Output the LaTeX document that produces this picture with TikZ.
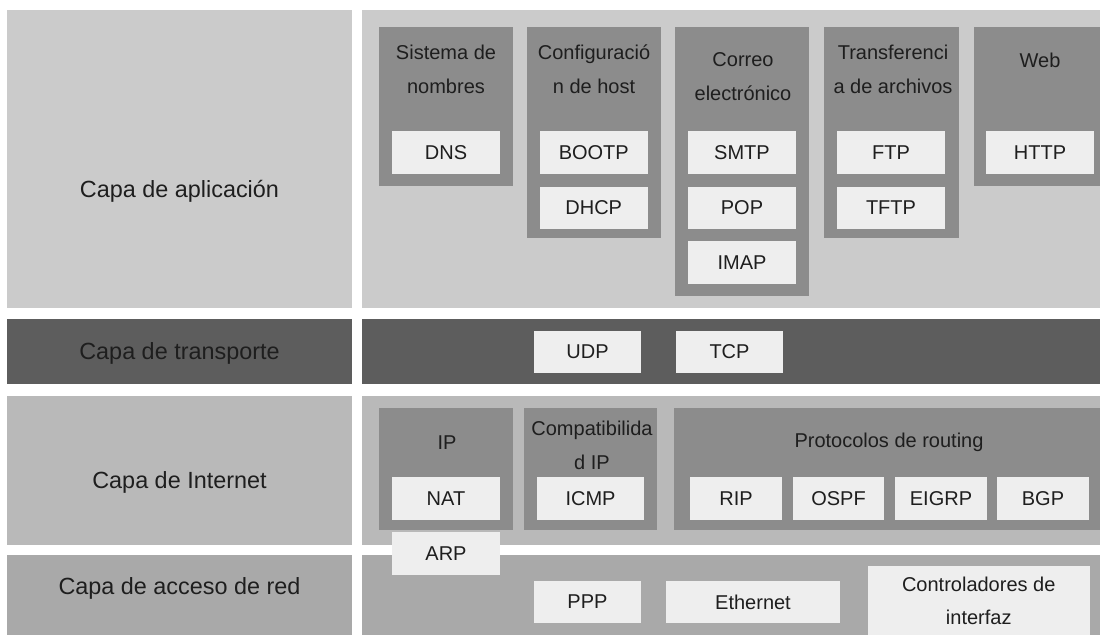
\documentclass[tikz,border=0pt]{standalone}
\usepackage{fontspec}
\setmainfont{Liberation Sans}

\definecolor{appband}{HTML}{CBCBCB}
\definecolor{transband}{HTML}{5D5D5D}
\definecolor{netband}{HTML}{B9B9B9}
\definecolor{accband}{HTML}{A9A9A9}
\definecolor{groupfill}{HTML}{8C8C8C}
\definecolor{boxfill}{HTML}{EEEEEE}
\definecolor{inkc}{HTML}{1E1E1E}

% protocol box from its corners: name, x1, y1, x2, y2, text
\newcommand\protobox[6]{%
  \node[proto, minimum width={(#4-#2)*1pt}, minimum height={(#5-#3)*1pt}]
    (#1) at ({(#2+#4)/2},{(#3+#5)/2}) {#6};}

\begin{document}
\begin{tikzpicture}[x=1pt, y=-1pt,
  layerlabel/.style={font=\fontsize{23.4}{28}\selectfont, text=inkc, inner sep=0},
  grouptitle/.style={font=\fontsize{20}{34}\selectfont, align=center, text=inkc, inner sep=0},
  proto/.style={fill=boxfill, inner sep=0, outer sep=0, align=center,
    font=\fontsize{20}{33}\selectfont, text=inkc}]

\useasboundingbox[fill=white] (0,0) rectangle (1100,635);

% ---- layer bands (label column and content column)
\fill[appband]   (7,10)  rectangle (352,308);
\fill[appband]   (362,10) rectangle (1100,308);
\fill[transband] (7,319) rectangle (352,384);
\fill[transband] (362,319) rectangle (1100,384);
\fill[netband]   (7,396) rectangle (352,545);
\fill[netband]   (362,396) rectangle (1100,545);
\fill[accband]   (7,555) rectangle (352,635);
\fill[accband]   (362,555) rectangle (1100,635);

\node[layerlabel] (lapp)   at (179.5,191) {Capa de aplicación};
\node[layerlabel] (ltrans) at (179.5,353) {Capa de transporte};
\node[layerlabel] (linet)  at (179.5,482) {Capa de Internet};
\node[layerlabel] (lacc)   at (179.5,588) {Capa de acceso de red};

% ---- application layer groups
\fill[groupfill] (379,27) rectangle (513,186);
\fill[groupfill] (527,27) rectangle (660.5,238);
\fill[groupfill] (675,27) rectangle (809,296);
\fill[groupfill] (824,27) rectangle (959,238);
\fill[groupfill] (974,27) rectangle (1100,186);

\node[grouptitle] (gnames) at (446,69)   {Sistema de\\nombres};
\node[grouptitle] (ghost)  at (594,69)   {Configuració\\n de host};
\node[grouptitle] (gmail)  at (743,77)   {Correo\\electrónico};
\node[grouptitle] (gfile)  at (893,69)   {Transferenci\\a de archivos};
\node[grouptitle] (gweb)   at (1040,60)  {Web};

\protobox{dns}{392}{131}{500}{174}{DNS}
\protobox{bootp}{540}{131}{647.5}{174}{BOOTP}
\protobox{dhcp}{540}{187}{647.5}{229}{DHCP}
\protobox{smtp}{688}{131}{796}{174}{SMTP}
\protobox{pop}{688}{187}{796}{229}{POP}
\protobox{imap}{688}{241}{796}{284}{IMAP}
\protobox{ftp}{837}{131}{945}{174}{FTP}
\protobox{tftp}{837}{187}{945}{229}{TFTP}
\protobox{http}{986}{131}{1094}{174}{HTTP}

% ---- transport layer
\protobox{udp}{534}{331}{641}{373}{UDP}
\protobox{tcp}{676}{331}{783}{373}{TCP}

% ---- internet layer groups
\fill[groupfill] (379,408) rectangle (513,530);
\fill[groupfill] (524,408) rectangle (657,530);
\fill[groupfill] (673.5,408) rectangle (1100,530);

\node[grouptitle] (gip)     at (447,443) {IP};
\node[grouptitle] (gcompat) at (592,445) {Compatibilida\\d IP};
\node[grouptitle] (groute)  at (889,442) {Protocolos de routing};

\protobox{nat}{392}{477}{500}{520}{NAT}
\protobox{arp}{392}{532}{500}{575}{ARP}
\protobox{icmp}{537}{477}{644}{520}{ICMP}
\protobox{rip}{690}{477}{782}{520}{RIP}
\protobox{ospf}{793}{477}{884}{520}{OSPF}
\protobox{eigrp}{895}{477}{987}{520}{EIGRP}
\protobox{bgp}{997}{477}{1089}{520}{BGP}

% ---- network access layer
\protobox{ppp}{534}{581}{641}{623}{PPP}
\protobox{eth}{666}{581}{840}{623}{Ethernet}
\protobox{ifdrv}{867.5}{566}{1090}{635}{Controladores de\\interfaz}

\end{tikzpicture}
\end{document}
